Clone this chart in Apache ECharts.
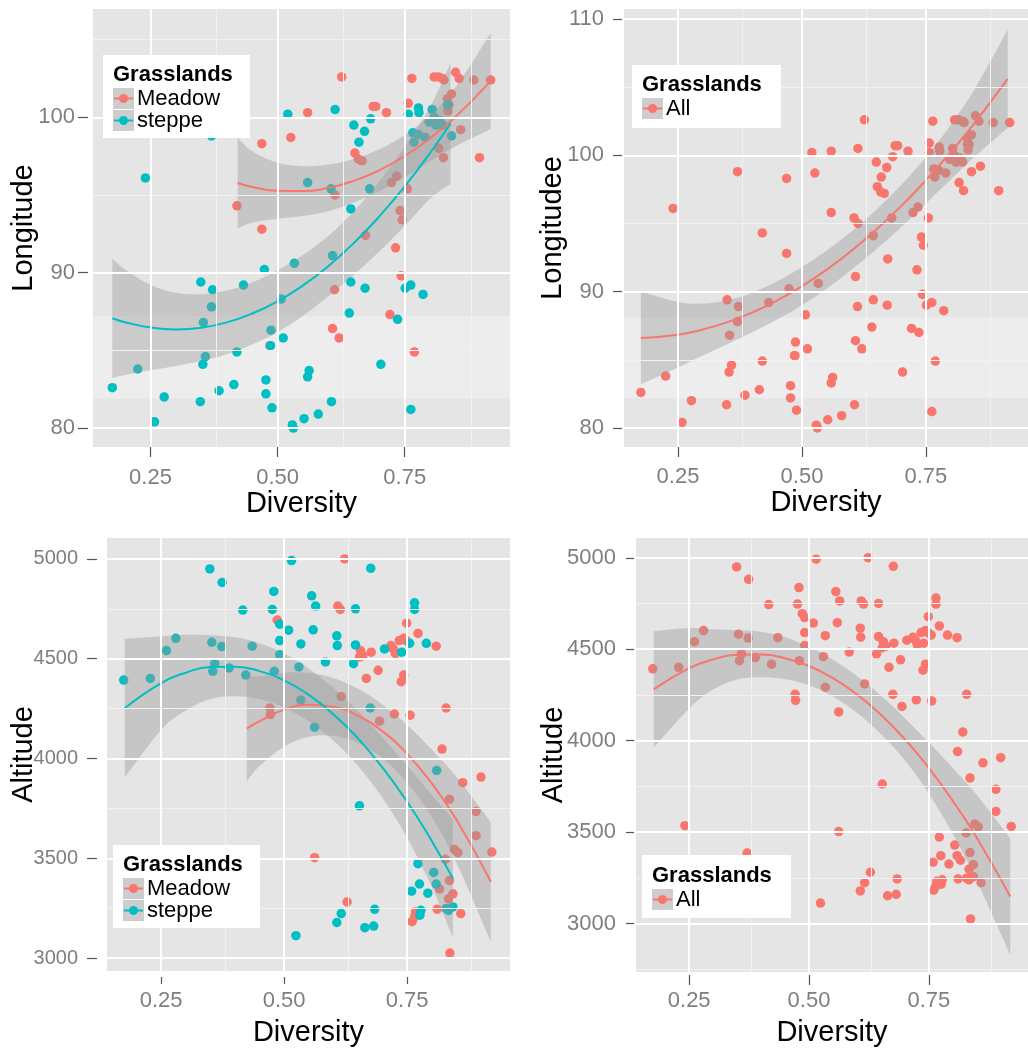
<!DOCTYPE html>
<html>
<head>
<meta charset="UTF-8">
<title>grasslands</title>
<script src="https://cdn.jsdelivr.net/npm/echarts@6/dist/echarts.min.js"></script>
<style>
  html, body { margin: 0; padding: 0; background: #fff; }
  #chart { width: 1028px; height: 1048px; }
</style>
</head>
<body>
<div id="chart"></div>
<script>
// ---- points: [diversity, value] ----
var meadowLon = [[0.626,102.6],[0.559,100.3],[0.469,98.3],[0.526,98.7],[0.420,94.3],[0.469,92.8],[0.485,85.3],[0.613,95.0],[0.612,88.9],[0.608,86.4],[0.621,85.8],[0.652,97.7],[0.659,97.3],[0.666,97.2],[0.673,92.4],[0.688,100.7],[0.693,100.7],[0.714,100.3],[0.724,95.8],[0.734,96.2],[0.721,87.3],[0.732,91.6],[0.741,94.0],[0.745,93.4],[0.743,89.8],[0.755,95.4],[0.764,102.5],[0.757,100.9],[0.769,84.9],[0.808,102.6],[0.816,102.6],[0.824,102.5],[0.827,102.4],[0.834,101.2],[0.842,101.5],[0.837,100.8],[0.835,100.4],[0.817,98.0],[0.826,97.4],[0.850,102.9],[0.857,102.5],[0.860,99.2],[0.886,102.4],[0.897,97.4],[0.919,102.4]];
var steppeLon = [[0.175,82.6],[0.225,83.8],[0.240,96.1],[0.258,80.4],[0.277,82.0],[0.349,89.4],[0.372,88.9],[0.370,87.8],[0.354,86.8],[0.358,84.6],[0.353,84.1],[0.348,81.7],[0.370,98.8],[0.385,82.4],[0.414,82.8],[0.420,84.9],[0.433,89.2],[0.474,90.2],[0.477,83.1],[0.477,82.2],[0.487,86.3],[0.486,85.3],[0.489,81.3],[0.507,88.3],[0.511,85.8],[0.520,100.2],[0.533,90.6],[0.529,80.2],[0.531,80.0],[0.552,80.6],[0.559,95.8],[0.562,83.7],[0.559,83.3],[0.580,80.9],[0.606,81.7],[0.613,100.5],[0.605,95.4],[0.608,91.1],[0.644,94.1],[0.644,89.4],[0.641,87.4],[0.650,99.5],[0.660,98.4],[0.671,99.1],[0.683,99.9],[0.681,95.4],[0.672,89.0],[0.703,84.1],[0.736,87.0],[0.751,89.0],[0.762,89.2],[0.786,88.6],[0.762,81.2],[0.757,100.2],[0.777,100.6],[0.778,100.3],[0.766,99.0],[0.768,98.4],[0.776,98.9],[0.790,98.7],[0.798,99.7],[0.804,100.5],[0.808,100.0],[0.811,99.5],[0.819,99.8],[0.824,99.5],[0.834,100.8],[0.842,98.8]];
var meadowAlt = [[0.486,4694],[0.471,4253],[0.472,4220],[0.616,4310],[0.562,3503],[0.628,3281],[0.623,5000],[0.609,4764],[0.614,4747],[0.655,4541],[0.660,4516],[0.677,4533],[0.653,4508],[0.667,4401],[0.691,4442],[0.694,4187],[0.717,4566],[0.726,4525],[0.722,4549],[0.724,4223],[0.734,4591],[0.743,4602],[0.748,4591],[0.743,4418],[0.738,4385],[0.749,4678],[0.756,4217],[0.772,4627],[0.809,4563],[0.829,4253],[0.821,4047],[0.863,3879],[0.900,3907],[0.836,3796],[0.890,3734],[0.890,3613],[0.828,3495],[0.846,3544],[0.853,3528],[0.922,3531],[0.816,3346],[0.834,3297],[0.843,3322],[0.836,3388],[0.811,3244],[0.859,3223],[0.767,3231],[0.765,3206],[0.760,3182],[0.837,3025]];
var steppeAlt = [[0.174,4393],[0.228,4401],[0.261,4541],[0.280,4602],[0.353,4582],[0.373,4561],[0.359,4475],[0.355,4437],[0.388,4454],[0.422,4418],[0.435,4563],[0.416,4744],[0.476,4747],[0.491,4673],[0.491,4591],[0.491,4520],[0.480,4437],[0.509,4643],[0.534,4574],[0.530,4459],[0.534,4292],[0.564,4764],[0.559,4645],[0.584,4484],[0.562,4157],[0.607,4615],[0.608,4566],[0.645,4750],[0.645,4569],[0.641,4475],[0.675,4253],[0.653,3763],[0.704,4549],[0.739,4533],[0.755,4577],[0.765,4780],[0.765,4747],[0.789,4577],[0.810,3940],[0.772,3473],[0.804,3429],[0.809,3371],[0.759,3335],[0.775,3371],[0.792,3325],[0.778,3239],[0.776,3215],[0.829,3248],[0.843,3256],[0.834,3239],[0.616,3223],[0.607,3178],[0.684,3244],[0.664,3152],[0.682,3160],[0.524,3112],[0.241,3535],[0.371,3385],[0.349,4950],[0.374,4882],[0.479,4837],[0.515,4992],[0.556,4815],[0.676,4953]];

// ---- fitted curves and confidence bands ----
var fitLonSteppeX = [0.175,0.2,0.25,0.3,0.35,0.4,0.45,0.5,0.55,0.6,0.65,0.7,0.75,0.8,0.84];
var fitLonSteppe  = [87.07,86.81,86.47,86.35,86.46,86.80,87.37,88.16,89.18,90.43,91.91,93.62,95.55,97.71,99.6];
var fitLonSteppeHi = [90.92,90.21,89.22,88.70,88.61,88.85,89.37,90.16,91.13,92.38,93.96,95.87,98.10,100.66,103.5];
var fitLonSteppeLo = [83.22,83.41,83.72,84.00,84.31,84.75,85.37,86.16,87.23,88.48,89.86,91.37,93.00,94.76,95.7];

var fitLonMeadowX = [0.4215,0.45,0.5,0.55,0.6,0.65,0.7,0.75,0.8,0.85,0.919];
var fitLonMeadow  = [95.77,95.52,95.27,95.25,95.46,95.91,96.59,97.51,98.66,100.04,102.33];
var fitLonMeadowHi = [98.67,97.82,97.07,96.85,96.96,97.31,97.94,98.86,100.16,101.94,105.43];
var fitLonMeadowLo = [92.87,93.22,93.47,93.65,93.96,94.51,95.24,96.16,97.16,98.14,99.23];

var fitLonAllX = [0.175,0.25,0.3,0.35,0.4,0.45,0.5,0.55,0.6,0.65,0.7,0.75,0.8,0.85,0.915];
var fitLonAll  = [86.60,86.84,87.22,87.76,88.47,89.35,90.40,91.61,93.00,94.55,96.27,98.16,100.22,102.45,105.60];
var fitLonAllHi = [90.0,89.24,89.12,89.36,89.92,90.75,91.80,93.01,94.40,96.00,97.82,99.86,102.22,104.95,109.2];
var fitLonAllLo = [83.2,84.44,85.32,86.16,87.02,87.95,89.00,90.21,91.60,93.10,94.72,96.46,98.22,99.95,102.0];

var fitAltSteppeX = [0.176,0.25,0.3,0.35,0.4,0.45,0.5,0.55,0.6,0.65,0.7,0.75,0.8,0.843];
var fitAltSteppe  = [4252,4378,4430,4458,4460,4438,4391,4319,4222,4101,3954,3783,3587,3399];
var fitAltSteppeHi = [4600,4613,4620,4618,4608,4578,4526,4451,4354,4239,4106,3963,3817,3694];
var fitAltSteppeLo = [3904,4143,4240,4298,4312,4298,4256,4187,4090,3963,3802,3603,3357,3104];

var fitAltMeadowX = [0.424,0.45,0.5,0.55,0.6,0.65,0.7,0.75,0.8,0.85,0.92];
var fitAltMeadow  = [4150,4187,4245,4269,4259,4214,4136,4023,3875,3694,3382];
var fitAltMeadowHi = [4415,4412,4430,4429,4404,4349,4271,4168,4045,3909,3682];
var fitAltMeadowLo = [3885,3962,4060,4109,4114,4079,4001,3878,3705,3479,3082];

var fitAltAllX = [0.176,0.25,0.3,0.35,0.4,0.45,0.5,0.55,0.6,0.65,0.7,0.75,0.8,0.85,0.92];
var fitAltAll  = [4280,4396,4444,4469,4471,4451,4408,4342,4253,4142,4008,3851,3671,3469,3148];
var fitAltAllHi = [4598,4616,4609,4604,4596,4566,4513,4442,4353,4247,4123,3991,3851,3704,3466];
var fitAltAllLo = [3962,4176,4279,4334,4346,4336,4303,4242,4153,4037,3893,3711,3491,3234,2830];

// ---- tick values ----
var xTicks = [0.25, 0.5, 0.75];
var xMinor = [0.375, 0.625, 0.875];
var lonTicks1 = [80, 90, 100];
var lonTicks2 = [80, 90, 100, 110];
var lonMinor = [85, 95, 105];
var altTicks = [3000, 3500, 4000, 4500, 5000];
var altMinor3 = [3250, 3750, 4250, 4750];
var altMinor4 = [2750, 3250, 3750, 4250, 4750];

var RED = '#F8766D', TEAL = '#00BFC4', BAND = 'rgba(153,153,153,0.4)';
var FONT = '"Liberation Sans", Arial, sans-serif';

var myChart = echarts.init(document.getElementById('chart'), null, {renderer: 'canvas'});

function xAxisOf(i, opt) {
  return {
    type: 'value', gridIndex: i, min: opt.min, max: opt.max, offset: opt.offset,
    name: 'Diversity', nameLocation: 'middle', nameGap: opt.nameGap,
    nameTextStyle: {fontSize: 29, color: '#000', fontFamily: FONT},
    axisLine: {show: false},
    axisTick: {show: true, length: opt.tick, customValues: xTicks, lineStyle: {color: '#555', width: 1.2}},
    axisLabel: {customValues: xTicks, margin: opt.margin, fontSize: 22, color: '#7F7F7F', fontFamily: FONT,
      formatter: function(v) { return v.toFixed(2); }},
    splitLine: {show: false}
  };
}

function yAxisOf(i, opt) {
  return {
    type: 'value', gridIndex: i, min: opt.min, max: opt.max, offset: opt.offset,
    name: opt.name, nameLocation: 'middle', nameGap: opt.nameGap, nameMoveOverlap: false,
    nameTextStyle: {fontSize: 29, color: '#000', fontFamily: FONT},
    axisLine: {show: false},
    axisTick: {show: true, length: opt.tick, customValues: opt.ticks, lineStyle: {color: '#555', width: 1.2}},
    axisLabel: {customValues: opt.ticks, margin: opt.margin, fontSize: opt.font, color: '#7F7F7F', fontFamily: FONT,
      formatter: function(v) { return String(v); }},
    splitLine: {show: false}
  };
}

// white grid lines drawn as mark lines on an empty series
function gridLines(i, xMaj, xMin, yMaj, yMin, light) {
  var data = [];
  xMin.forEach(function(v) { data.push({xAxis: v, lineStyle: {color: '#F2F2F2', width: 1, type: 'solid'}}); });
  yMin.forEach(function(v) { data.push({yAxis: v, lineStyle: {color: '#F2F2F2', width: 1, type: 'solid'}}); });
  xMaj.forEach(function(v) { data.push({xAxis: v, lineStyle: {color: '#FFFFFF', width: 2, type: 'solid'}}); });
  yMaj.forEach(function(v) { data.push({yAxis: v, lineStyle: {color: '#FFFFFF', width: 2, type: 'solid'}}); });
  var s = {
    type: 'line', xAxisIndex: i, yAxisIndex: i, data: [], z: 1, silent: true,
    markLine: {silent: true, symbol: ['none', 'none'], label: {show: false}, animation: false, data: data}
  };
  if (light) {
    s.markArea = {silent: true, itemStyle: {color: 'rgba(255,255,255,0.32)'}, data: [[{yAxis: light[0]}, {yAxis: light[1]}]]};
  }
  return s;
}

function pt(p) { return p[0].toFixed(2) + ' ' + p[1].toFixed(2); }
function curve(pts) {
  var d = '';
  for (var k = 0; k < pts.length - 1; k++) {
    var p0 = pts[Math.max(k - 1, 0)], p1 = pts[k], p2 = pts[k + 1], p3 = pts[Math.min(k + 2, pts.length - 1)];
    var c1 = [p1[0] + (p2[0] - p0[0]) / 6, p1[1] + (p2[1] - p0[1]) / 6];
    var c2 = [p2[0] - (p3[0] - p1[0]) / 6, p2[1] - (p3[1] - p1[1]) / 6];
    d += ' C' + pt(c1) + ' ' + pt(c2) + ' ' + pt(p2);
  }
  return d;
}

function bandSeries(i, xs, lo, hi) {
  return {
    type: 'custom', xAxisIndex: i, yAxisIndex: i, z: 3, silent: true,
    data: xs.map(function(x, k) { return [x, lo[k], hi[k]]; }),
    encode: {x: 0, y: [1, 2]},
    renderItem: function(params, api) {
      if (params.dataIndex !== 0) return null;
      var up = xs.map(function(x, k) { return api.coord([x, hi[k]]); });
      var dn = xs.map(function(x, k) { return api.coord([x, lo[k]]); }).reverse();
      var d = 'M' + pt(up[0]) + curve(up) + ' L' + pt(dn[0]) + curve(dn) + ' Z';
      return {type: 'path', shape: {pathData: d}, style: {fill: BAND}};
    }
  };
}

function fitLine(i, xs, ys, color) {
  return {
    type: 'line', xAxisIndex: i, yAxisIndex: i, z: 4, silent: true, smooth: true,
    showSymbol: false, symbol: 'none',
    data: xs.map(function(x, k) { return [x, ys[k]]; }),
    lineStyle: {color: color, width: 2}
  };
}

function points(i, data, color) {
  return {
    type: 'scatter', xAxisIndex: i, yAxisIndex: i, z: 2, silent: true,
    symbolSize: 9.5, data: data, itemStyle: {color: color, opacity: 1}
  };
}

// legend drawn as graphics (ggplot style key)
function legend(x, y, w, h, titleY, items) {
  var Z = 100;
  var els = [
    {type: 'rect', z: Z, shape: {x: x, y: y, width: w, height: h}, style: {fill: '#fff'}},
    {type: 'text', z: Z + 1, style: {text: 'Grasslands', x: x + 10, y: titleY, font: 'bold 22px ' + FONT, fill: '#000',
      verticalAlign: 'middle', textVerticalAlign: 'middle'}}
  ];
  items.forEach(function(it) {
    els.push({type: 'rect', z: Z + 1, shape: {x: x + 10, y: it.y - 10, width: 21, height: 21}, style: {fill: '#CDCDCD'}});
    els.push({type: 'line', z: Z + 2, shape: {x1: x + 11, y1: it.y + 0.5, x2: x + 30, y2: it.y + 0.5}, style: {stroke: it.color, lineWidth: 2}});
    els.push({type: 'circle', z: Z + 3, shape: {cx: x + 20.5, cy: it.y + 0.5, r: 4.5}, style: {fill: it.color}});
    els.push({type: 'text', z: Z + 1, style: {text: it.label, x: x + 34, y: it.y + 1, font: '22px ' + FONT, fill: '#000',
      verticalAlign: 'middle', textVerticalAlign: 'middle'}});
  });
  return els;
}

var option = {
  animation: false,
  grid: [
    {left: 93, top: 9, width: 417, height: 438, show: true, backgroundColor: '#E5E5E5', borderWidth: 0},
    {left: 624, top: 9, width: 417, height: 438, show: true, backgroundColor: '#E5E5E5', borderWidth: 0},
    {left: 107, top: 538, width: 403, height: 434, show: true, backgroundColor: '#E5E5E5', borderWidth: 0},
    {left: 636, top: 538, width: 404, height: 434, show: true, backgroundColor: '#E5E5E5', borderWidth: 0}
  ],
  xAxis: [
    xAxisOf(0, {min: 0.137, max: 0.957, offset: 0, tick: 10, margin: 20, nameGap: 40}),
    xAxisOf(1, {min: 0.141, max: 0.956, offset: 0, tick: 10, margin: 19, nameGap: 38}),
    xAxisOf(2, {min: 0.140, max: 0.959, offset: 6, tick: 7, margin: 13, nameGap: 41}),
    xAxisOf(3, {min: 0.139, max: 0.957, offset: 3, tick: 10, margin: 15, nameGap: 43})
  ],
  yAxis: [
    yAxisOf(0, {min: 78.78, max: 106.97, offset: 5, tick: 10, margin: 13, nameGap: 50, font: 22, name: 'Longitude', ticks: lonTicks1}),
    yAxisOf(1, {min: 78.6, max: 110.73, offset: 2, tick: 9, margin: 18, nameGap: 55, font: 22, name: 'Longitudee', ticks: lonTicks2}),
    yAxisOf(2, {min: 2935, max: 5105, offset: 10, tick: 10, margin: 19, nameGap: 59, font: 20, name: 'Altitude', ticks: altTicks}),
    yAxisOf(3, {min: 2735, max: 5108, offset: 2, tick: 8, margin: 18, nameGap: 66, font: 22, name: 'Altitude', ticks: altTicks})
  ],
  series: [
    gridLines(0, xTicks, xMinor, lonTicks1, lonMinor, [81.9, 87.2]),
    gridLines(1, xTicks, xMinor, lonTicks2, lonMinor, [82.2, 88.1]),
    gridLines(2, xTicks, xMinor, altTicks, altMinor3, null),
    gridLines(3, xTicks, xMinor, altTicks, altMinor4, null),

    points(0, meadowLon, RED),
    points(0, steppeLon, TEAL),
    points(1, meadowLon.concat(steppeLon), RED),
    points(2, meadowAlt, RED),
    points(2, steppeAlt, TEAL),
    points(3, meadowAlt.concat(steppeAlt), RED),

    bandSeries(0, fitLonMeadowX, fitLonMeadowLo, fitLonMeadowHi),
    bandSeries(0, fitLonSteppeX, fitLonSteppeLo, fitLonSteppeHi),
    bandSeries(1, fitLonAllX, fitLonAllLo, fitLonAllHi),
    bandSeries(2, fitAltMeadowX, fitAltMeadowLo, fitAltMeadowHi),
    bandSeries(2, fitAltSteppeX, fitAltSteppeLo, fitAltSteppeHi),
    bandSeries(3, fitAltAllX, fitAltAllLo, fitAltAllHi),

    fitLine(0, fitLonMeadowX, fitLonMeadow, RED),
    fitLine(0, fitLonSteppeX, fitLonSteppe, TEAL),
    fitLine(1, fitLonAllX, fitLonAll, RED),
    fitLine(2, fitAltMeadowX, fitAltMeadow, RED),
    fitLine(2, fitAltSteppeX, fitAltSteppe, TEAL),
    fitLine(3, fitAltAllX, fitAltAll, RED)
  ],
  graphic: [].concat(
    legend(103, 55, 147, 83, 75, [{label: 'Meadow', color: RED, y: 98}, {label: 'steppe', color: TEAL, y: 120}]),
    legend(632, 65, 149, 63, 85, [{label: 'All', color: RED, y: 108}]),
    legend(113, 845, 147, 83, 865, [{label: 'Meadow', color: RED, y: 888}, {label: 'steppe', color: TEAL, y: 910}]),
    legend(642, 855, 149, 63, 876, [{label: 'All', color: RED, y: 899}])
  )
};

myChart.setOption(option);
</script>
</body>
</html>
